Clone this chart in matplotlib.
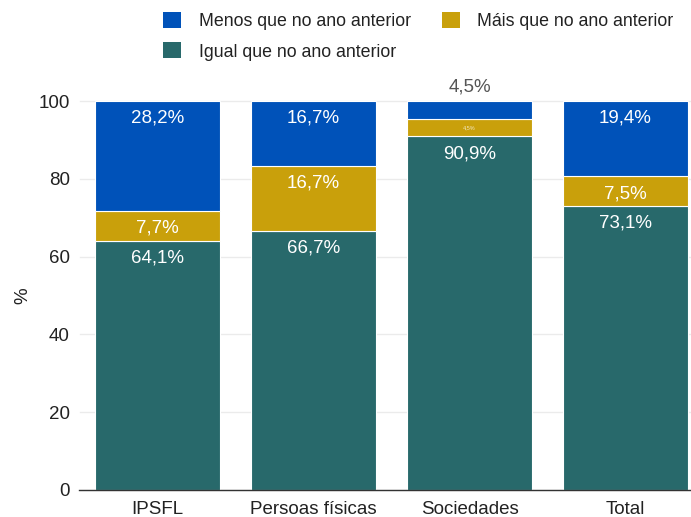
import matplotlib
matplotlib.use("Agg")
import matplotlib.pyplot as plt
from matplotlib.patches import Patch

plt.rcParams['font.family'] = ['Liberation Sans', 'DejaVu Sans']

categories = ["IPSFL", "Persoas físicas", "Sociedades", "Total"]
igual = [64.1, 66.7, 90.9, 73.1]
mais = [7.7, 16.7, 4.5, 7.5]
menos = [28.2, 16.7, 4.5, 19.4]
series_names = ["Menos que no ano anterior", "Máis que no ano anterior", "Igual que no ano anterior"]
yticks = [0, 20, 40, 60, 80, 100]

c_menos = "#0052B9"
c_mais = "#C9A00B"
c_igual = "#28696B"

FS = 13.5
W, H = 691, 517
fig = plt.figure(figsize=(W / 100, H / 100), dpi=100)
ax_left, ax_right = 79.5, 703.5
ax_top, ax_bot = 101, 490
ax = fig.add_axes([ax_left / W, 1 - ax_bot / H, (ax_right - ax_left) / W, (ax_bot - ax_top) / H])

x = list(range(len(categories)))
bw = 0.795
ax.bar(x, igual, width=bw, color=c_igual, edgecolor="white", linewidth=0.8, zorder=3)
bottom2 = igual
ax.bar(x, mais, width=bw, bottom=bottom2, color=c_mais, edgecolor="white", linewidth=0.8, zorder=3)
bottom3 = [a + b for a, b in zip(igual, mais)]
ax.bar(x, menos, width=bw, bottom=bottom3, color=c_menos, edgecolor="white", linewidth=0.8, zorder=3)

def fmt(v):
    return f"{v:.1f}".replace(".", ",") + "%"

def label_segments(vals, bottoms):
    small = []
    for i, (v, b) in enumerate(zip(vals, bottoms)):
        top = b + v
        if v >= 6:
            ax.annotate(fmt(v), xy=(i, top), xytext=(0, -12.5), textcoords="offset points",
                        ha="center", va="center", color="white", fontsize=FS, zorder=5)
        else:
            small.append((i, v, b, top))
    return small

label_segments(igual, [0] * 4)
small_mais = label_segments(mais, bottom2)
small_menos = label_segments(menos, bottom3)
for i, v, b, top in small_mais:
    ax.text(i, b + v / 2, fmt(v), ha="center", va="center", color="#f3e8c0", fontsize=4, zorder=5)
for i, v, b, top in small_menos:
    ax.annotate(fmt(v), xy=(i, top), xytext=(0, 10.5), textcoords="offset points",
                ha="center", va="center", color="#555555", fontsize=FS, zorder=5,
                annotation_clip=False)

ax.set_xlim(-0.5, 3.5)
ax.set_ylim(0, 100)
ax.set_yticks(yticks)
ax.set_xticks(x)
ax.set_xticklabels(categories)
ax.grid(axis="y", color="#ebebeb", linewidth=1, zorder=0)
ax.set_axisbelow(True)
for s in ["top", "right", "left"]:
    ax.spines[s].set_visible(False)
ax.spines["bottom"].set_color("#333333")
ax.spines["bottom"].set_linewidth(1)
ax.spines["bottom"].set_zorder(4)
ax.tick_params(axis="y", length=0, pad=7, labelsize=FS, labelcolor="#222222")
ax.tick_params(axis="x", length=0, pad=8, labelsize=FS, labelcolor="#222222")
for gl in ax.get_ygridlines():
    gl.set_clip_on(False)
ax.set_ylabel("%", fontsize=FS, color="#222222", labelpad=5)

handles = [Patch(facecolor=c_menos, edgecolor="none"),
           Patch(facecolor=c_igual, edgecolor="none"),
           Patch(facecolor=c_mais, edgecolor="none")]
labels = [series_names[0], series_names[2], series_names[1]]
fig.legend(handles, labels, loc="upper left", bbox_to_anchor=(163 / W, 1 - 12 / H), ncol=2,
           frameon=False, fontsize=12.8, handlelength=1.0, handleheight=1.0,
           handletextpad=1.0, columnspacing=1.75, labelspacing=0.7, borderpad=0, borderaxespad=0,
           labelcolor="#222222")

fig.savefig("out.png", dpi=100)
